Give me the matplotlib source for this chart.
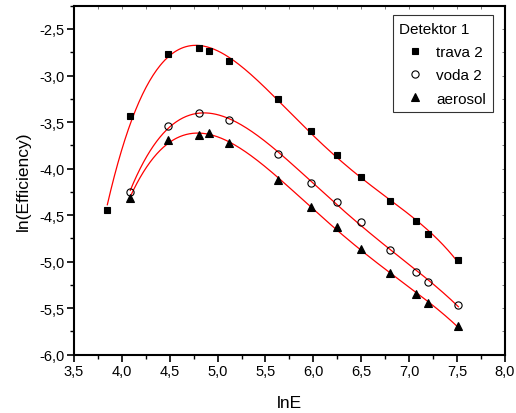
import numpy as np
import matplotlib
matplotlib.use('Agg')
import matplotlib.pyplot as plt
from matplotlib.ticker import MultipleLocator, FuncFormatter

plt.rcParams['font.family'] = ['Liberation Sans', 'DejaVu Sans']

# data
x_trava = [3.848, 4.088, 4.478, 4.805, 4.912, 5.115, 5.633, 5.974, 6.249, 6.496, 6.802, 7.070, 7.198, 7.515]
y_trava = [-4.445, -3.438, -2.768, -2.707, -2.736, -2.844, -3.252, -3.599, -3.851, -4.087, -4.348, -4.566, -4.703, -4.982]

x_voda = [4.088, 4.478, 4.805, 5.115, 5.633, 5.974, 6.249, 6.496, 6.802, 7.067, 7.198, 7.515]
y_voda = [-4.248, -3.542, -3.402, -3.481, -3.843, -4.152, -4.358, -4.574, -4.878, -5.111, -5.216, -5.466]

x_aer = [4.088, 4.478, 4.805, 4.912, 5.115, 5.633, 5.971, 6.249, 6.496, 6.802, 7.067, 7.198, 7.515]
y_aer = [-4.316, -3.695, -3.639, -3.621, -3.725, -4.123, -4.413, -4.628, -4.864, -5.119, -5.345, -5.448, -5.692]

series = [
    (x_trava, y_trava, 's', 'k', 5.0, 'trava 2'),
    (x_voda, y_voda, 'o', 'none', 5.2, 'voda 2'),
    (x_aer, y_aer, '^', 'k', 5.8, 'aerosol'),
]

fig = plt.figure(figsize=(5.16, 4.14), dpi=100)
ax = fig.add_axes([0.1434, 0.1408, 0.835, 0.843])

for xs, ys, mk, fc, ms, lab in series:
    p = np.polyfit(xs, ys, 4)
    xf = np.linspace(min(xs), max(xs), 300)
    ax.plot(xf, np.polyval(p, xf), color='red', lw=0.9, zorder=1)
    ax.plot(xs, ys, mk, mfc=fc, mec='k', mew=0.8, ms=ms, ls='none', label=lab, zorder=2)

ax.set_xlim(3.5, 8.0)
ax.set_ylim(-6.0, -2.25)
ax.xaxis.set_major_locator(MultipleLocator(0.5))
ax.xaxis.set_minor_locator(MultipleLocator(0.25))
ax.yaxis.set_major_locator(MultipleLocator(0.5))
ax.yaxis.set_minor_locator(MultipleLocator(0.25))
comma = FuncFormatter(lambda v, pos: ('%.1f' % v).replace('.', ','))
ax.xaxis.set_major_formatter(comma)
ax.yaxis.set_major_formatter(comma)
ax.tick_params(which='major', direction='out', length=5, width=1.2, labelsize=10.5, pad=2)
ax.tick_params(which='minor', direction='out', length=3, width=1.0)
for s in ax.spines.values():
    s.set_linewidth(1.5)

# tiny inward ticks on top and right
top = ax.secondary_xaxis('top')
top.set_xticks(np.arange(3.5, 8.01, 0.25))
top.tick_params(direction='in', length=2, width=0.6, color='0.4', labeltop=False)
top.spines[:].set_visible(False)
rgt = ax.secondary_yaxis('right')
rgt.set_yticks(np.arange(-6.0, -2.24, 0.25))
rgt.tick_params(direction='in', length=2, width=0.6, color='0.4', labelright=False)
rgt.spines[:].set_visible(False)

ax.set_xlabel('lnE', fontsize=12.5, labelpad=12)
ax.set_ylabel('ln(Efficiency)', fontsize=12.5, labelpad=6)

leg = ax.legend(title='Detektor 1', loc='upper right', fontsize=11, title_fontsize=11,
                frameon=True, fancybox=False, edgecolor='k', borderpad=0.45,
                handletextpad=0.4, labelspacing=0.6, handlelength=2.0,
                borderaxespad=0, bbox_to_anchor=(0.972, 0.973))
leg._legend_box.align = 'left'
leg.get_frame().set_linewidth(0.8)

fig.savefig('out.png', dpi=100)
